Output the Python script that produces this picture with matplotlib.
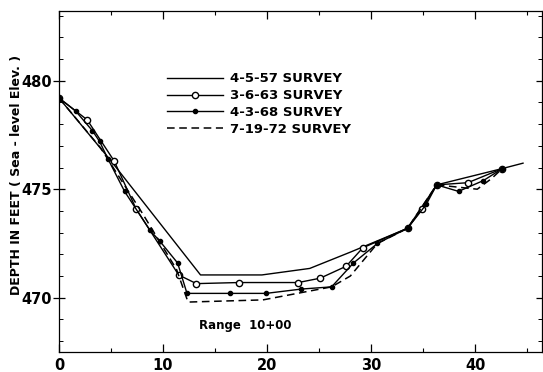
import numpy as np
import matplotlib.pyplot as plt
from matplotlib.ticker import MultipleLocator

# Survey profiles, distance (x) vs. elevation (ft)
x57 = [0, 5.0, 13.6, 19.5, 24.1, 28.0, 33.5, 36.3, 42.6, 44.6]
y57 = [479.2, 476.3, 471.05, 471.05, 471.35, 472.1, 473.2, 475.2, 475.95, 476.2]

x63 = [0, 2.7, 5.3, 7.4, 11.5, 13.2, 17.3, 23.0, 25.1, 27.6, 29.2, 33.5, 34.9, 36.3, 39.3, 42.6]
y63 = [479.2, 478.2, 476.3, 474.1, 471.05, 470.65, 470.7, 470.7, 470.9, 471.45, 472.3, 473.2, 474.1, 475.2, 475.3, 475.95]

x68 = [0, 1.6, 3.2, 3.9, 4.7, 6.3, 8.75, 9.7, 11.4, 12.3, 16.4, 19.9, 23.3, 26.2, 28.3, 30.6, 33.5, 35.3, 36.3, 38.4, 40.8, 42.6]
y68 = [479.2, 478.6, 477.7, 477.2, 476.4, 474.9, 473.1, 472.6, 471.6, 470.2, 470.2, 470.2, 470.4, 470.5, 471.6, 472.5, 473.2, 474.3, 475.2, 474.9, 475.4, 475.95]

x72 = [0, 4.0, 8.0, 11.3, 12.4, 19.6, 26.2, 28.0, 30.6, 33.5, 36.3, 40.2, 41.6, 42.6]
y72 = [479.2, 476.9, 473.9, 471.3, 469.8, 469.9, 470.5, 471.0, 472.5, 473.2, 475.2, 475.0, 475.5, 475.95]

labels = ["4-5-57 SURVEY", "3-6-63 SURVEY", "4-3-68 SURVEY", "7-19-72 SURVEY"]

fig = plt.figure(figsize=(5.43, 3.72), dpi=100)
ax = fig.add_axes([0.1087, 0.0538, 0.889, 0.916])

k = 'black'
ax.plot(x57, y57, color=k, lw=1.0, label=labels[0])
ax.plot(x63, y63, color=k, lw=1.0, marker='o', ms=4.5, mfc='white', mec=k, mew=1.0, label=labels[1])
ax.plot(x68, y68, color=k, lw=1.0, marker='o', ms=3, mfc=k, mec=k, label=labels[2])
ax.plot(x72, y72, color=k, lw=1.1, ls=(0, (5, 3)), label=labels[3])

ax.set_xlim(0, 46.4)
ax.set_ylim(467.5, 483.2)

ax.xaxis.set_major_locator(MultipleLocator(10))
ax.xaxis.set_minor_locator(MultipleLocator(5))
ax.yaxis.set_major_locator(MultipleLocator(5))
ax.yaxis.set_minor_locator(MultipleLocator(1))

ax.tick_params(axis='x', which='major', direction='in', length=6, width=0.9,
               top=True, labelsize=10.5, pad=4)
ax.tick_params(axis='x', which='minor', direction='in', length=3, width=0.8, top=True)
ax.tick_params(axis='y', which='major', direction='inout', length=8, width=0.9,
               right=True, labelsize=10.5, pad=1)
ax.tick_params(axis='y', which='minor', direction='in', length=3, width=0.7, right=True)
for lab in ax.get_xticklabels() + ax.get_yticklabels():
    lab.set_fontweight('bold')
for s in ax.spines.values():
    s.set_linewidth(0.9)

ax.set_ylabel("DEPTH IN FEET ( Sea - level Elev. )", fontsize=9, fontweight='bold')
ax.yaxis.set_label_coords(-0.075, 0.52)

ax.text(17.9, 468.7, "Range  10+00", fontsize=8.5, fontweight='bold', ha='center', va='center')

leg = ax.legend(loc='upper left', bbox_to_anchor=(0.2, 0.856), frameon=False,
                handlelength=4.2, handletextpad=0.55, labelspacing=0.3,
                prop={'size': 9.5, 'weight': 'bold'})

fig.savefig("out.png", dpi=100)
